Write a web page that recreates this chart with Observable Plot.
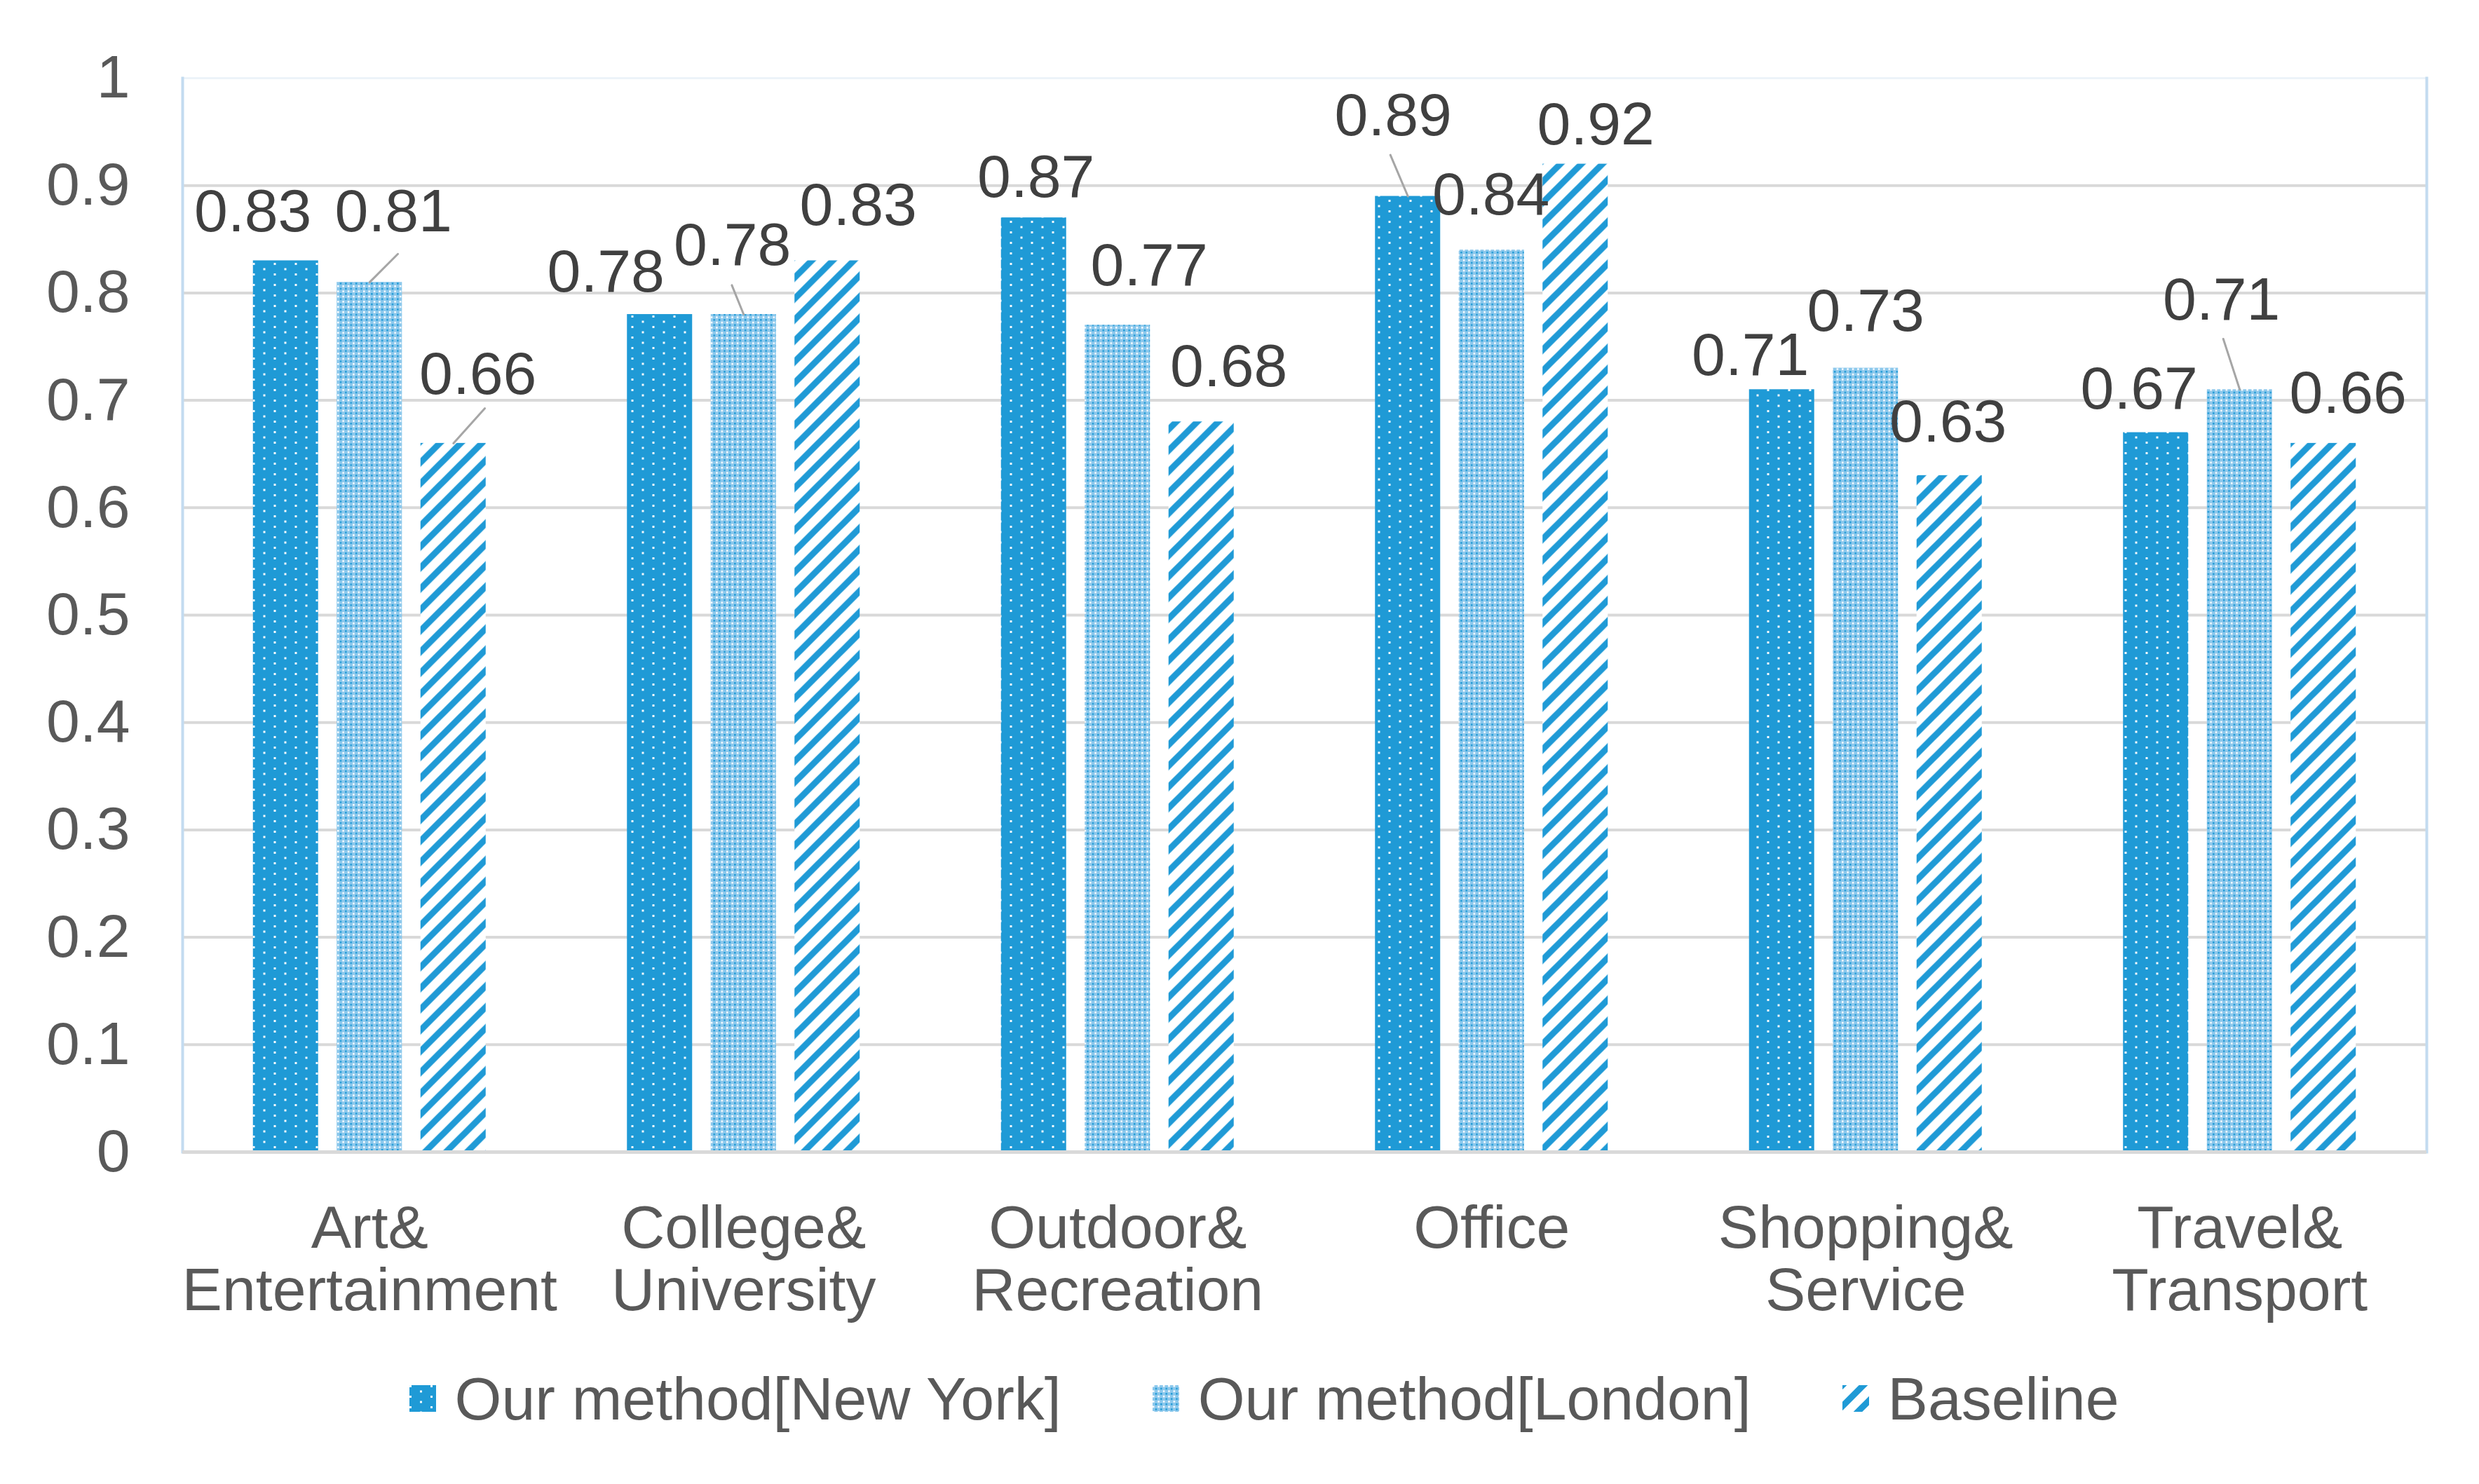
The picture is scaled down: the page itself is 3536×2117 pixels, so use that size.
<!DOCTYPE html>
<html><head><meta charset="utf-8">
<script src="https://cdn.jsdelivr.net/npm/d3@7"></script>
<script src="https://cdn.jsdelivr.net/npm/@observablehq/plot@0.6"></script>
<style>
body{margin:0;background:#fff;font-family:"Liberation Sans",Arial,sans-serif;}
#legend{display:flex;justify-content:center;align-items:center;gap:130px;height:190px;font-size:86px;color:#595959;padding-left:70px;}
.item{display:flex;align-items:center;gap:27px;white-space:nowrap}
.item svg{display:block}
</style></head><body>
<svg width="0" height="0" style="position:absolute">
<defs>
<pattern id="pNY" patternUnits="userSpaceOnUse" width="30" height="15">
 <rect width="30" height="15" fill="#1f9ad6"/>
 <rect x="0" y="0" width="3" height="3" fill="#f4fafd"/>
 <rect x="15" y="7.5" width="3" height="3" fill="#f4fafd"/>
</pattern>
<pattern id="pLON" patternUnits="userSpaceOnUse" width="7.4" height="7.4">
 <rect width="7.4" height="7.4" fill="#8cc8ec"/>
 <rect x="0" y="0" width="2.5" height="2.5" fill="#ffffff"/>
 <rect x="3.7" y="3.7" width="2.5" height="2.5" fill="#1f9ad6"/>
</pattern>
<pattern id="pBASE" patternUnits="userSpaceOnUse" width="30" height="30">
 <rect width="30" height="30" fill="#ffffff"/>
 <path d="M-7.5,7.5 L7.5,-7.5 M0,30 L30,0 M22.5,37.5 L37.5,22.5" stroke="#1f9ad6" stroke-width="9"/>
</pattern>
</defs></svg>
<div id="chart"></div>
<div id="legend"></div>
<script>
// ---- data ----
const categories = ["Art& Entertainment", "College& University", "Outdoor& Recreation", "Office", "Shopping& Service", "Travel& Transport"];
const series = ["Our method[New York]", "Our method[London]", "Baseline"];
const newYorkValues = [0.83, 0.78, 0.87, 0.89, 0.71, 0.67];
const londonValues = [0.81, 0.78, 0.77, 0.84, 0.73, 0.71];
const baselineValues = [0.66, 0.83, 0.68, 0.92, 0.63, 0.66];
const yTicks = [0, 0.1, 0.2, 0.3, 0.4, 0.5, 0.6, 0.7, 0.8, 0.9, 1];

// ---- layout / styling (not data) ----
const seriesFill = ["url(#pNY)", "url(#pLON)", "url(#pBASE)"];
const seriesShift = [-119.5, 0, 119.5];
// manual label nudges [dx, dy] in pixels, per series then category (as placed in the original)
const labelNudge = [
  [[-47,-69],[-77,-60],[3,-57],[-21,-115],[-45,-48],[-24,-62]],
  [[34,-100],[-16,-98],[45,-84],[-1,-78],[0,-81],[-26,-127]],
  [[35,-98],[44,-78],[39,-78],[29,-56],[-2,-76],[35,-71]]
];
// leader lines: series index, category index, length px, rotation deg
const leaders = [
  {s:1, c:0, len:57, rot:45},
  {s:2, c:0, len:67, rot:42},
  {s:1, c:1, len:45, rot:-22},
  {s:0, c:3, len:64, rot:-23},
  {s:1, c:5, len:76, rot:-18}
];

const valuesBySeries = [newYorkValues, londonValues, baselineValues];
const rows = categories.flatMap((c, ci) => series.map((s, si) => ({category: c, series: s, value: valuesBySeries[si][ci], si, ci})));

const FS = 86;
const marks = [
  Plot.gridY(yTicks.filter(t => t > 0 && t < 1), {stroke: "#d9d9d9", strokeOpacity: 1, strokeWidth: 4}),
  Plot.frame({anchor: "top", stroke: "#edf3f9", strokeWidth: 3}),
  Plot.frame({anchor: "left", stroke: "#c3dbf0", strokeWidth: 4}),
  Plot.frame({anchor: "right", stroke: "#c3dbf0", strokeWidth: 4}),
];
series.forEach((s, si) => {
  marks.push(Plot.barY(rows.filter(d => d.si === si), {
    x: "category", y: "value", fill: seriesFill[si], dx: seriesShift[si],
    insetLeft: 220.25, insetRight: 220.25
  }));
});
marks.push(Plot.ruleY([0], {stroke: "#d9d9d9", strokeWidth: 5}));
leaders.forEach(L => {
  const d = rows.find(r => r.si === L.s && r.ci === L.c);
  marks.push(Plot.vector([d], {
    x: "category", y: "value", dx: seriesShift[L.s], length: L.len, rotate: L.rot,
    anchor: "start", stroke: "#a6a6a6", strokeWidth: 3,
    shape: {draw(context, l) { context.moveTo(0, 0); context.lineTo(0, -l); }}
  }));
});
rows.forEach(d => {
  const [nx, ny] = labelNudge[d.si][d.ci];
  marks.push(Plot.text([d], {
    x: "category", y: "value", text: r => r.value.toFixed(2),
    dx: seriesShift[d.si] + nx, dy: ny, fill: "#404040", fontSize: FS
  }));
});
marks.push(Plot.axisY({ticks: yTicks, tickSize: 0, tickPadding: 75, fontSize: FS, fill: "#595959", tickFormat: d3.format(".1~f"), label: null}));
marks.push(Plot.axisX({tickSize: 0, tickPadding: 73, fontSize: FS, lineHeight: 1.04, fill: "#595959", tickFormat: d => d.replace("& ", "&\n"), label: null}));

const chart = Plot.plot({
  width: 3536, height: 1900,
  marginLeft: 260, marginRight: 75, marginTop: 111, marginBottom: 257,
  style: {fontFamily: '"Liberation Sans", Arial, sans-serif', fontSize: FS + "px", color: "#595959", background: "#fff"},
  x: {type: "band", domain: categories, padding: 0, round: false},
  y: {domain: [0, 1]},
  marks
});
document.getElementById("chart").appendChild(chart);

// legend
const legend = document.getElementById("legend");
series.forEach((s, si) => {
  const item = document.createElement("div");
  item.className = "item";
  item.innerHTML = `<svg width="38" height="38"><rect width="38" height="38" fill="${seriesFill[si]}"/></svg><span>${s}</span>`;
  legend.appendChild(item);
});
</script>
</body></html>
